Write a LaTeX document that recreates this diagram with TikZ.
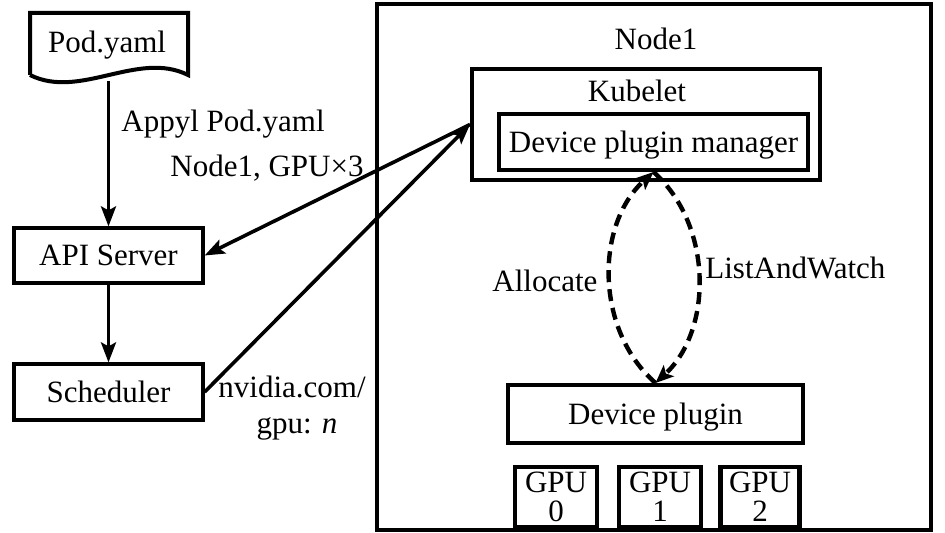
\documentclass[tikz,border=0pt]{standalone}
\usepackage{fontspec}
\setmainfont{Liberation Serif}
\usetikzlibrary{arrows.meta}
\begin{document}
\begin{tikzpicture}[x=0.5pt,y=-0.5pt,
  every node/.style={font=\fontsize{15.5}{15.5}\selectfont, inner sep=0pt},
  box/.style={draw, line width=1.6pt, text height=10.3pt, text depth=0pt},
  thickbox/.style={box, line width=2pt},
  gpubox/.style={draw, line width=2.3pt, align=center, minimum height=30pt,
    font=\fontsize{15.5}{14.5}\selectfont},
  arr/.style={line width=1.8pt, -{Stealth[length=10pt,width=7.5pt,inset=2pt]}},
  dasharr/.style={line width=2.2pt, dash pattern=on 6pt off 3.5pt, -{Stealth[length=9pt,width=7.5pt,inset=2pt]}},
  lbl/.style={anchor=base west},
  clbl/.style={anchor=base}]
\useasboundingbox (0,0) rectangle (945,533);

% Node1 outer box
\node[draw, line width=1.6pt, minimum width=277pt, minimum height=263pt] (outer) at (654,267) {};
\node[clbl] (n1lbl) at (656,50) {Node1};

% Kubelet
\node[thickbox, minimum width=174pt, minimum height=55.5pt] (kub) at (646,124.5) {};
\node[clbl] (kublbl) at (637,102) {Kubelet};
\node[thickbox, minimum width=154.5pt, minimum height=28pt] (dpm) at (653.5,142) {Device plugin manager};

% Device plugin and GPUs
\node[thickbox, minimum width=147.5pt, minimum height=29pt] (dp) at (655.5,414) {Device plugin};
\node[gpubox, minimum width=41pt] (g0) at (556,497) {GPU\\0};
\node[gpubox, minimum width=41pt] (g1) at (660,497) {GPU\\1};
\node[gpubox, minimum width=39.5pt] (g2) at (760,497) {GPU\\2};

% Left column
\draw[line width=2pt, line join=miter] (30,75) -- (30,13) -- (188,13) -- (188,75)
  .. controls (138,50) and (80,100) .. (30,75);
\node[text height=10.3pt, text depth=0pt] (pod) at (107,42.5) {Pod.yaml};
\coordinate (podbot) at (108.5,81);
\node[box, minimum width=94.5pt, minimum height=27.5pt] (api) at (108.5,255.5) {API Server};
\node[box, minimum width=94.5pt, minimum height=28pt] (sched) at (108.5,392) {Scheduler};

% Arrows
\draw[arr] (podbot) -- (api.north);
\draw[arr] (api.south) -- (sched.north);
\draw[arr] (kub.west) -- (api.east);
\draw[arr] (sched.east) -- (kub.west);

\draw[dasharr] (dp.north) .. controls (595,330) and (595,225) .. (dpm.south);
\draw[dasharr] (dpm.south) .. controls (713,225) and (713,330) .. (dp.north);

% Labels
\node[lbl] (l1) at (121,132) {Appyl Pod.yaml};
\node[lbl] (l2) at (170,177) {Node1, GPU×3};
\node[clbl] (l3) at (292,397) {nvidia.com/};
\node[clbl] (l4) at (297,433) {gpu: \textit{n}};
\node[lbl] (l5) at (492,292) {Allocate};
\node[lbl] (l6) at (705,279) {ListAndWatch};
\end{tikzpicture}
\end{document}
